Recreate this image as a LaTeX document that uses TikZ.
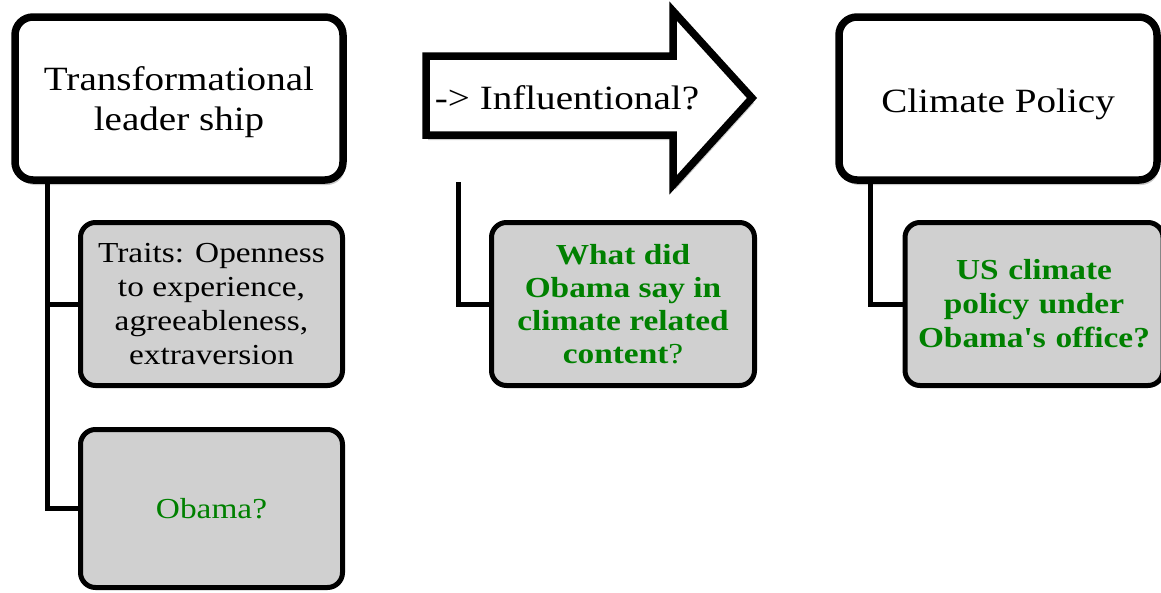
\documentclass[tikz,border=0pt]{standalone}
\usepackage{fontspec}
\setmainfont[FakeStretch=1.15]{Liberation Serif}
\usetikzlibrary{shadows}
\definecolor{boxgray}{RGB}{208,208,208}
\definecolor{qgreen}{RGB}{0,128,0}
\newcommand{\straightq}{{\addfontfeature{Ligatures=TeXOff}'}}
\begin{document}
\begin{tikzpicture}[x=1pt,y=-1pt,
  softshadow/.style={drop shadow={opacity=0.35, fill=black!60, shadow xshift=2pt, shadow yshift=-5pt}},
  mainbox/.style={draw=black, fill=white, line width=7.5pt, rounded corners=18pt,
    inner sep=0pt, align=center, softshadow,
    font=\fontsize{34}{40}\selectfont},
  subbox/.style={draw=black, fill=boxgray, line width=5pt, rounded corners=15pt,
    inner sep=0pt, align=center, minimum width=262pt, minimum height=163pt,
    font=\fontsize{29}{34}\selectfont},
  conn/.style={draw=black, line width=5pt}]
\useasboundingbox (0,0) rectangle (1161,592);
% top row
\node[mainbox, minimum width=328pt, minimum height=163pt, text depth=0pt] (lead) at (179,98.5)
  {Transformational\\leader ship};
\node[mainbox, minimum width=318pt, minimum height=163pt, text height=28pt, text depth=0pt] (clim) at (998,98.5)
  {Climate Policy};
\path[draw=black, fill=white, line width=7.5pt, line join=miter, softshadow]
  (426,56) -- (673,56) -- (673,11) -- (752,98) -- (673,185) -- (673,135)
  -- (426,135) -- cycle;
\node[font=\fontsize{34}{40}\selectfont, inner sep=0pt] (infl) at (567,98)
  {-> Influentional?};
% sub boxes
\node[subbox] (traits) at (211.5,304)
  {Traits: Openness\\to experience,\\agreeableness,\\extraversion};
\node[subbox, minimum height=158pt] (obama) at (211.5,508.5)
  {\color{qgreen}Obama?};
\node[subbox, minimum width=263pt] (what) at (623,304)
  {\textbf{\color{qgreen}What did}\\[-1pt]\textbf{\color{qgreen}Obama say in}\\[-1pt]
   \textbf{\color{qgreen}climate related}\\[-1pt]\textbf{\color{qgreen}content}{\color{qgreen}?}};
\node[subbox, minimum width=258pt, text width=240pt] (us) at (1034,304)
  {\bfseries\color{qgreen}US climate\\policy under\\Obama\straightq s office?};
% connectors
\coordinate (leadfoot) at (47,181);
\coordinate (arrfoot) at (458,182);
\coordinate (climfoot) at (870,181);
\draw[conn] (leadfoot) |- (traits.west);
\draw[conn] (leadfoot) |- (obama.west);
\draw[conn] (arrfoot) |- (what.west);
\draw[conn] (climfoot) |- (us.west);
\end{tikzpicture}
\end{document}
